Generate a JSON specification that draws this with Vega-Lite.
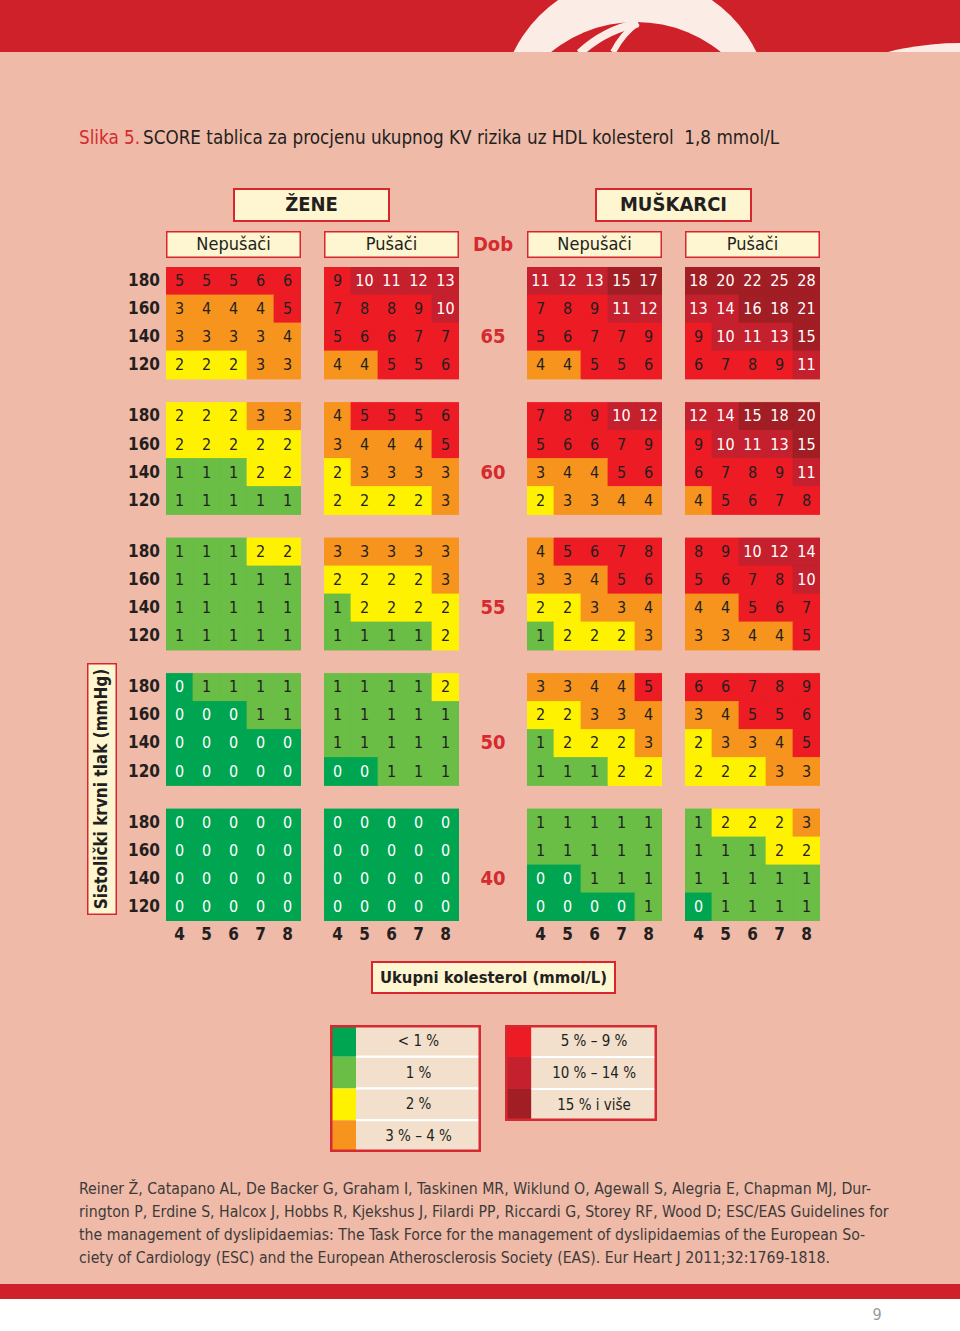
{
"$schema": "https://vega.github.io/schema/vega-lite/v6.json",
"background": "#efbaa7",
"padding": 0,
"spacing": 0,
"resolve": {"scale": {"color": "independent", "stroke": "independent"}},
"config": {"view": {"stroke": null}, "concat": {"spacing": 0}, "text": {"font": "Liberation Sans Narrow, DejaVu Sans Condensed, Roboto Condensed, Liberation Sans, sans-serif", "color": "#231f20"}},
"datasets": {"cells": [
{"sex":"Žene","smoker":"Nepušači","age":65,"sbp":180,"chol":4,"risk":5},{"sex":"Žene","smoker":"Nepušači","age":65,"sbp":180,"chol":5,"risk":5},{"sex":"Žene","smoker":"Nepušači","age":65,"sbp":180,"chol":6,"risk":5},{"sex":"Žene","smoker":"Nepušači","age":65,"sbp":180,"chol":7,"risk":6},{"sex":"Žene","smoker":"Nepušači","age":65,"sbp":180,"chol":8,"risk":6},
{"sex":"Žene","smoker":"Nepušači","age":65,"sbp":160,"chol":4,"risk":3},{"sex":"Žene","smoker":"Nepušači","age":65,"sbp":160,"chol":5,"risk":4},{"sex":"Žene","smoker":"Nepušači","age":65,"sbp":160,"chol":6,"risk":4},{"sex":"Žene","smoker":"Nepušači","age":65,"sbp":160,"chol":7,"risk":4},{"sex":"Žene","smoker":"Nepušači","age":65,"sbp":160,"chol":8,"risk":5},
{"sex":"Žene","smoker":"Nepušači","age":65,"sbp":140,"chol":4,"risk":3},{"sex":"Žene","smoker":"Nepušači","age":65,"sbp":140,"chol":5,"risk":3},{"sex":"Žene","smoker":"Nepušači","age":65,"sbp":140,"chol":6,"risk":3},{"sex":"Žene","smoker":"Nepušači","age":65,"sbp":140,"chol":7,"risk":3},{"sex":"Žene","smoker":"Nepušači","age":65,"sbp":140,"chol":8,"risk":4},
{"sex":"Žene","smoker":"Nepušači","age":65,"sbp":120,"chol":4,"risk":2},{"sex":"Žene","smoker":"Nepušači","age":65,"sbp":120,"chol":5,"risk":2},{"sex":"Žene","smoker":"Nepušači","age":65,"sbp":120,"chol":6,"risk":2},{"sex":"Žene","smoker":"Nepušači","age":65,"sbp":120,"chol":7,"risk":3},{"sex":"Žene","smoker":"Nepušači","age":65,"sbp":120,"chol":8,"risk":3},
{"sex":"Žene","smoker":"Nepušači","age":60,"sbp":180,"chol":4,"risk":2},{"sex":"Žene","smoker":"Nepušači","age":60,"sbp":180,"chol":5,"risk":2},{"sex":"Žene","smoker":"Nepušači","age":60,"sbp":180,"chol":6,"risk":2},{"sex":"Žene","smoker":"Nepušači","age":60,"sbp":180,"chol":7,"risk":3},{"sex":"Žene","smoker":"Nepušači","age":60,"sbp":180,"chol":8,"risk":3},
{"sex":"Žene","smoker":"Nepušači","age":60,"sbp":160,"chol":4,"risk":2},{"sex":"Žene","smoker":"Nepušači","age":60,"sbp":160,"chol":5,"risk":2},{"sex":"Žene","smoker":"Nepušači","age":60,"sbp":160,"chol":6,"risk":2},{"sex":"Žene","smoker":"Nepušači","age":60,"sbp":160,"chol":7,"risk":2},{"sex":"Žene","smoker":"Nepušači","age":60,"sbp":160,"chol":8,"risk":2},
{"sex":"Žene","smoker":"Nepušači","age":60,"sbp":140,"chol":4,"risk":1},{"sex":"Žene","smoker":"Nepušači","age":60,"sbp":140,"chol":5,"risk":1},{"sex":"Žene","smoker":"Nepušači","age":60,"sbp":140,"chol":6,"risk":1},{"sex":"Žene","smoker":"Nepušači","age":60,"sbp":140,"chol":7,"risk":2},{"sex":"Žene","smoker":"Nepušači","age":60,"sbp":140,"chol":8,"risk":2},
{"sex":"Žene","smoker":"Nepušači","age":60,"sbp":120,"chol":4,"risk":1},{"sex":"Žene","smoker":"Nepušači","age":60,"sbp":120,"chol":5,"risk":1},{"sex":"Žene","smoker":"Nepušači","age":60,"sbp":120,"chol":6,"risk":1},{"sex":"Žene","smoker":"Nepušači","age":60,"sbp":120,"chol":7,"risk":1},{"sex":"Žene","smoker":"Nepušači","age":60,"sbp":120,"chol":8,"risk":1},
{"sex":"Žene","smoker":"Nepušači","age":55,"sbp":180,"chol":4,"risk":1},{"sex":"Žene","smoker":"Nepušači","age":55,"sbp":180,"chol":5,"risk":1},{"sex":"Žene","smoker":"Nepušači","age":55,"sbp":180,"chol":6,"risk":1},{"sex":"Žene","smoker":"Nepušači","age":55,"sbp":180,"chol":7,"risk":2},{"sex":"Žene","smoker":"Nepušači","age":55,"sbp":180,"chol":8,"risk":2},
{"sex":"Žene","smoker":"Nepušači","age":55,"sbp":160,"chol":4,"risk":1},{"sex":"Žene","smoker":"Nepušači","age":55,"sbp":160,"chol":5,"risk":1},{"sex":"Žene","smoker":"Nepušači","age":55,"sbp":160,"chol":6,"risk":1},{"sex":"Žene","smoker":"Nepušači","age":55,"sbp":160,"chol":7,"risk":1},{"sex":"Žene","smoker":"Nepušači","age":55,"sbp":160,"chol":8,"risk":1},
{"sex":"Žene","smoker":"Nepušači","age":55,"sbp":140,"chol":4,"risk":1},{"sex":"Žene","smoker":"Nepušači","age":55,"sbp":140,"chol":5,"risk":1},{"sex":"Žene","smoker":"Nepušači","age":55,"sbp":140,"chol":6,"risk":1},{"sex":"Žene","smoker":"Nepušači","age":55,"sbp":140,"chol":7,"risk":1},{"sex":"Žene","smoker":"Nepušači","age":55,"sbp":140,"chol":8,"risk":1},
{"sex":"Žene","smoker":"Nepušači","age":55,"sbp":120,"chol":4,"risk":1},{"sex":"Žene","smoker":"Nepušači","age":55,"sbp":120,"chol":5,"risk":1},{"sex":"Žene","smoker":"Nepušači","age":55,"sbp":120,"chol":6,"risk":1},{"sex":"Žene","smoker":"Nepušači","age":55,"sbp":120,"chol":7,"risk":1},{"sex":"Žene","smoker":"Nepušači","age":55,"sbp":120,"chol":8,"risk":1},
{"sex":"Žene","smoker":"Nepušači","age":50,"sbp":180,"chol":4,"risk":0},{"sex":"Žene","smoker":"Nepušači","age":50,"sbp":180,"chol":5,"risk":1},{"sex":"Žene","smoker":"Nepušači","age":50,"sbp":180,"chol":6,"risk":1},{"sex":"Žene","smoker":"Nepušači","age":50,"sbp":180,"chol":7,"risk":1},{"sex":"Žene","smoker":"Nepušači","age":50,"sbp":180,"chol":8,"risk":1},
{"sex":"Žene","smoker":"Nepušači","age":50,"sbp":160,"chol":4,"risk":0},{"sex":"Žene","smoker":"Nepušači","age":50,"sbp":160,"chol":5,"risk":0},{"sex":"Žene","smoker":"Nepušači","age":50,"sbp":160,"chol":6,"risk":0},{"sex":"Žene","smoker":"Nepušači","age":50,"sbp":160,"chol":7,"risk":1},{"sex":"Žene","smoker":"Nepušači","age":50,"sbp":160,"chol":8,"risk":1},
{"sex":"Žene","smoker":"Nepušači","age":50,"sbp":140,"chol":4,"risk":0},{"sex":"Žene","smoker":"Nepušači","age":50,"sbp":140,"chol":5,"risk":0},{"sex":"Žene","smoker":"Nepušači","age":50,"sbp":140,"chol":6,"risk":0},{"sex":"Žene","smoker":"Nepušači","age":50,"sbp":140,"chol":7,"risk":0},{"sex":"Žene","smoker":"Nepušači","age":50,"sbp":140,"chol":8,"risk":0},
{"sex":"Žene","smoker":"Nepušači","age":50,"sbp":120,"chol":4,"risk":0},{"sex":"Žene","smoker":"Nepušači","age":50,"sbp":120,"chol":5,"risk":0},{"sex":"Žene","smoker":"Nepušači","age":50,"sbp":120,"chol":6,"risk":0},{"sex":"Žene","smoker":"Nepušači","age":50,"sbp":120,"chol":7,"risk":0},{"sex":"Žene","smoker":"Nepušači","age":50,"sbp":120,"chol":8,"risk":0},
{"sex":"Žene","smoker":"Nepušači","age":40,"sbp":180,"chol":4,"risk":0},{"sex":"Žene","smoker":"Nepušači","age":40,"sbp":180,"chol":5,"risk":0},{"sex":"Žene","smoker":"Nepušači","age":40,"sbp":180,"chol":6,"risk":0},{"sex":"Žene","smoker":"Nepušači","age":40,"sbp":180,"chol":7,"risk":0},{"sex":"Žene","smoker":"Nepušači","age":40,"sbp":180,"chol":8,"risk":0},
{"sex":"Žene","smoker":"Nepušači","age":40,"sbp":160,"chol":4,"risk":0},{"sex":"Žene","smoker":"Nepušači","age":40,"sbp":160,"chol":5,"risk":0},{"sex":"Žene","smoker":"Nepušači","age":40,"sbp":160,"chol":6,"risk":0},{"sex":"Žene","smoker":"Nepušači","age":40,"sbp":160,"chol":7,"risk":0},{"sex":"Žene","smoker":"Nepušači","age":40,"sbp":160,"chol":8,"risk":0},
{"sex":"Žene","smoker":"Nepušači","age":40,"sbp":140,"chol":4,"risk":0},{"sex":"Žene","smoker":"Nepušači","age":40,"sbp":140,"chol":5,"risk":0},{"sex":"Žene","smoker":"Nepušači","age":40,"sbp":140,"chol":6,"risk":0},{"sex":"Žene","smoker":"Nepušači","age":40,"sbp":140,"chol":7,"risk":0},{"sex":"Žene","smoker":"Nepušači","age":40,"sbp":140,"chol":8,"risk":0},
{"sex":"Žene","smoker":"Nepušači","age":40,"sbp":120,"chol":4,"risk":0},{"sex":"Žene","smoker":"Nepušači","age":40,"sbp":120,"chol":5,"risk":0},{"sex":"Žene","smoker":"Nepušači","age":40,"sbp":120,"chol":6,"risk":0},{"sex":"Žene","smoker":"Nepušači","age":40,"sbp":120,"chol":7,"risk":0},{"sex":"Žene","smoker":"Nepušači","age":40,"sbp":120,"chol":8,"risk":0},
{"sex":"Žene","smoker":"Pušači","age":65,"sbp":180,"chol":4,"risk":9},{"sex":"Žene","smoker":"Pušači","age":65,"sbp":180,"chol":5,"risk":10},{"sex":"Žene","smoker":"Pušači","age":65,"sbp":180,"chol":6,"risk":11},{"sex":"Žene","smoker":"Pušači","age":65,"sbp":180,"chol":7,"risk":12},{"sex":"Žene","smoker":"Pušači","age":65,"sbp":180,"chol":8,"risk":13},
{"sex":"Žene","smoker":"Pušači","age":65,"sbp":160,"chol":4,"risk":7},{"sex":"Žene","smoker":"Pušači","age":65,"sbp":160,"chol":5,"risk":8},{"sex":"Žene","smoker":"Pušači","age":65,"sbp":160,"chol":6,"risk":8},{"sex":"Žene","smoker":"Pušači","age":65,"sbp":160,"chol":7,"risk":9},{"sex":"Žene","smoker":"Pušači","age":65,"sbp":160,"chol":8,"risk":10},
{"sex":"Žene","smoker":"Pušači","age":65,"sbp":140,"chol":4,"risk":5},{"sex":"Žene","smoker":"Pušači","age":65,"sbp":140,"chol":5,"risk":6},{"sex":"Žene","smoker":"Pušači","age":65,"sbp":140,"chol":6,"risk":6},{"sex":"Žene","smoker":"Pušači","age":65,"sbp":140,"chol":7,"risk":7},{"sex":"Žene","smoker":"Pušači","age":65,"sbp":140,"chol":8,"risk":7},
{"sex":"Žene","smoker":"Pušači","age":65,"sbp":120,"chol":4,"risk":4},{"sex":"Žene","smoker":"Pušači","age":65,"sbp":120,"chol":5,"risk":4},{"sex":"Žene","smoker":"Pušači","age":65,"sbp":120,"chol":6,"risk":5},{"sex":"Žene","smoker":"Pušači","age":65,"sbp":120,"chol":7,"risk":5},{"sex":"Žene","smoker":"Pušači","age":65,"sbp":120,"chol":8,"risk":6},
{"sex":"Žene","smoker":"Pušači","age":60,"sbp":180,"chol":4,"risk":4},{"sex":"Žene","smoker":"Pušači","age":60,"sbp":180,"chol":5,"risk":5},{"sex":"Žene","smoker":"Pušači","age":60,"sbp":180,"chol":6,"risk":5},{"sex":"Žene","smoker":"Pušači","age":60,"sbp":180,"chol":7,"risk":5},{"sex":"Žene","smoker":"Pušači","age":60,"sbp":180,"chol":8,"risk":6},
{"sex":"Žene","smoker":"Pušači","age":60,"sbp":160,"chol":4,"risk":3},{"sex":"Žene","smoker":"Pušači","age":60,"sbp":160,"chol":5,"risk":4},{"sex":"Žene","smoker":"Pušači","age":60,"sbp":160,"chol":6,"risk":4},{"sex":"Žene","smoker":"Pušači","age":60,"sbp":160,"chol":7,"risk":4},{"sex":"Žene","smoker":"Pušači","age":60,"sbp":160,"chol":8,"risk":5},
{"sex":"Žene","smoker":"Pušači","age":60,"sbp":140,"chol":4,"risk":2},{"sex":"Žene","smoker":"Pušači","age":60,"sbp":140,"chol":5,"risk":3},{"sex":"Žene","smoker":"Pušači","age":60,"sbp":140,"chol":6,"risk":3},{"sex":"Žene","smoker":"Pušači","age":60,"sbp":140,"chol":7,"risk":3},{"sex":"Žene","smoker":"Pušači","age":60,"sbp":140,"chol":8,"risk":3},
{"sex":"Žene","smoker":"Pušači","age":60,"sbp":120,"chol":4,"risk":2},{"sex":"Žene","smoker":"Pušači","age":60,"sbp":120,"chol":5,"risk":2},{"sex":"Žene","smoker":"Pušači","age":60,"sbp":120,"chol":6,"risk":2},{"sex":"Žene","smoker":"Pušači","age":60,"sbp":120,"chol":7,"risk":2},{"sex":"Žene","smoker":"Pušači","age":60,"sbp":120,"chol":8,"risk":3},
{"sex":"Žene","smoker":"Pušači","age":55,"sbp":180,"chol":4,"risk":3},{"sex":"Žene","smoker":"Pušači","age":55,"sbp":180,"chol":5,"risk":3},{"sex":"Žene","smoker":"Pušači","age":55,"sbp":180,"chol":6,"risk":3},{"sex":"Žene","smoker":"Pušači","age":55,"sbp":180,"chol":7,"risk":3},{"sex":"Žene","smoker":"Pušači","age":55,"sbp":180,"chol":8,"risk":3},
{"sex":"Žene","smoker":"Pušači","age":55,"sbp":160,"chol":4,"risk":2},{"sex":"Žene","smoker":"Pušači","age":55,"sbp":160,"chol":5,"risk":2},{"sex":"Žene","smoker":"Pušači","age":55,"sbp":160,"chol":6,"risk":2},{"sex":"Žene","smoker":"Pušači","age":55,"sbp":160,"chol":7,"risk":2},{"sex":"Žene","smoker":"Pušači","age":55,"sbp":160,"chol":8,"risk":3},
{"sex":"Žene","smoker":"Pušači","age":55,"sbp":140,"chol":4,"risk":1},{"sex":"Žene","smoker":"Pušači","age":55,"sbp":140,"chol":5,"risk":2},{"sex":"Žene","smoker":"Pušači","age":55,"sbp":140,"chol":6,"risk":2},{"sex":"Žene","smoker":"Pušači","age":55,"sbp":140,"chol":7,"risk":2},{"sex":"Žene","smoker":"Pušači","age":55,"sbp":140,"chol":8,"risk":2},
{"sex":"Žene","smoker":"Pušači","age":55,"sbp":120,"chol":4,"risk":1},{"sex":"Žene","smoker":"Pušači","age":55,"sbp":120,"chol":5,"risk":1},{"sex":"Žene","smoker":"Pušači","age":55,"sbp":120,"chol":6,"risk":1},{"sex":"Žene","smoker":"Pušači","age":55,"sbp":120,"chol":7,"risk":1},{"sex":"Žene","smoker":"Pušači","age":55,"sbp":120,"chol":8,"risk":2},
{"sex":"Žene","smoker":"Pušači","age":50,"sbp":180,"chol":4,"risk":1},{"sex":"Žene","smoker":"Pušači","age":50,"sbp":180,"chol":5,"risk":1},{"sex":"Žene","smoker":"Pušači","age":50,"sbp":180,"chol":6,"risk":1},{"sex":"Žene","smoker":"Pušači","age":50,"sbp":180,"chol":7,"risk":1},{"sex":"Žene","smoker":"Pušači","age":50,"sbp":180,"chol":8,"risk":2},
{"sex":"Žene","smoker":"Pušači","age":50,"sbp":160,"chol":4,"risk":1},{"sex":"Žene","smoker":"Pušači","age":50,"sbp":160,"chol":5,"risk":1},{"sex":"Žene","smoker":"Pušači","age":50,"sbp":160,"chol":6,"risk":1},{"sex":"Žene","smoker":"Pušači","age":50,"sbp":160,"chol":7,"risk":1},{"sex":"Žene","smoker":"Pušači","age":50,"sbp":160,"chol":8,"risk":1},
{"sex":"Žene","smoker":"Pušači","age":50,"sbp":140,"chol":4,"risk":1},{"sex":"Žene","smoker":"Pušači","age":50,"sbp":140,"chol":5,"risk":1},{"sex":"Žene","smoker":"Pušači","age":50,"sbp":140,"chol":6,"risk":1},{"sex":"Žene","smoker":"Pušači","age":50,"sbp":140,"chol":7,"risk":1},{"sex":"Žene","smoker":"Pušači","age":50,"sbp":140,"chol":8,"risk":1},
{"sex":"Žene","smoker":"Pušači","age":50,"sbp":120,"chol":4,"risk":0},{"sex":"Žene","smoker":"Pušači","age":50,"sbp":120,"chol":5,"risk":0},{"sex":"Žene","smoker":"Pušači","age":50,"sbp":120,"chol":6,"risk":1},{"sex":"Žene","smoker":"Pušači","age":50,"sbp":120,"chol":7,"risk":1},{"sex":"Žene","smoker":"Pušači","age":50,"sbp":120,"chol":8,"risk":1},
{"sex":"Žene","smoker":"Pušači","age":40,"sbp":180,"chol":4,"risk":0},{"sex":"Žene","smoker":"Pušači","age":40,"sbp":180,"chol":5,"risk":0},{"sex":"Žene","smoker":"Pušači","age":40,"sbp":180,"chol":6,"risk":0},{"sex":"Žene","smoker":"Pušači","age":40,"sbp":180,"chol":7,"risk":0},{"sex":"Žene","smoker":"Pušači","age":40,"sbp":180,"chol":8,"risk":0},
{"sex":"Žene","smoker":"Pušači","age":40,"sbp":160,"chol":4,"risk":0},{"sex":"Žene","smoker":"Pušači","age":40,"sbp":160,"chol":5,"risk":0},{"sex":"Žene","smoker":"Pušači","age":40,"sbp":160,"chol":6,"risk":0},{"sex":"Žene","smoker":"Pušači","age":40,"sbp":160,"chol":7,"risk":0},{"sex":"Žene","smoker":"Pušači","age":40,"sbp":160,"chol":8,"risk":0},
{"sex":"Žene","smoker":"Pušači","age":40,"sbp":140,"chol":4,"risk":0},{"sex":"Žene","smoker":"Pušači","age":40,"sbp":140,"chol":5,"risk":0},{"sex":"Žene","smoker":"Pušači","age":40,"sbp":140,"chol":6,"risk":0},{"sex":"Žene","smoker":"Pušači","age":40,"sbp":140,"chol":7,"risk":0},{"sex":"Žene","smoker":"Pušači","age":40,"sbp":140,"chol":8,"risk":0},
{"sex":"Žene","smoker":"Pušači","age":40,"sbp":120,"chol":4,"risk":0},{"sex":"Žene","smoker":"Pušači","age":40,"sbp":120,"chol":5,"risk":0},{"sex":"Žene","smoker":"Pušači","age":40,"sbp":120,"chol":6,"risk":0},{"sex":"Žene","smoker":"Pušači","age":40,"sbp":120,"chol":7,"risk":0},{"sex":"Žene","smoker":"Pušači","age":40,"sbp":120,"chol":8,"risk":0},
{"sex":"Muškarci","smoker":"Nepušači","age":65,"sbp":180,"chol":4,"risk":11},{"sex":"Muškarci","smoker":"Nepušači","age":65,"sbp":180,"chol":5,"risk":12},{"sex":"Muškarci","smoker":"Nepušači","age":65,"sbp":180,"chol":6,"risk":13},{"sex":"Muškarci","smoker":"Nepušači","age":65,"sbp":180,"chol":7,"risk":15},{"sex":"Muškarci","smoker":"Nepušači","age":65,"sbp":180,"chol":8,"risk":17},
{"sex":"Muškarci","smoker":"Nepušači","age":65,"sbp":160,"chol":4,"risk":7},{"sex":"Muškarci","smoker":"Nepušači","age":65,"sbp":160,"chol":5,"risk":8},{"sex":"Muškarci","smoker":"Nepušači","age":65,"sbp":160,"chol":6,"risk":9},{"sex":"Muškarci","smoker":"Nepušači","age":65,"sbp":160,"chol":7,"risk":11},{"sex":"Muškarci","smoker":"Nepušači","age":65,"sbp":160,"chol":8,"risk":12},
{"sex":"Muškarci","smoker":"Nepušači","age":65,"sbp":140,"chol":4,"risk":5},{"sex":"Muškarci","smoker":"Nepušači","age":65,"sbp":140,"chol":5,"risk":6},{"sex":"Muškarci","smoker":"Nepušači","age":65,"sbp":140,"chol":6,"risk":7},{"sex":"Muškarci","smoker":"Nepušači","age":65,"sbp":140,"chol":7,"risk":7},{"sex":"Muškarci","smoker":"Nepušači","age":65,"sbp":140,"chol":8,"risk":9},
{"sex":"Muškarci","smoker":"Nepušači","age":65,"sbp":120,"chol":4,"risk":4},{"sex":"Muškarci","smoker":"Nepušači","age":65,"sbp":120,"chol":5,"risk":4},{"sex":"Muškarci","smoker":"Nepušači","age":65,"sbp":120,"chol":6,"risk":5},{"sex":"Muškarci","smoker":"Nepušači","age":65,"sbp":120,"chol":7,"risk":5},{"sex":"Muškarci","smoker":"Nepušači","age":65,"sbp":120,"chol":8,"risk":6},
{"sex":"Muškarci","smoker":"Nepušači","age":60,"sbp":180,"chol":4,"risk":7},{"sex":"Muškarci","smoker":"Nepušači","age":60,"sbp":180,"chol":5,"risk":8},{"sex":"Muškarci","smoker":"Nepušači","age":60,"sbp":180,"chol":6,"risk":9},{"sex":"Muškarci","smoker":"Nepušači","age":60,"sbp":180,"chol":7,"risk":10},{"sex":"Muškarci","smoker":"Nepušači","age":60,"sbp":180,"chol":8,"risk":12},
{"sex":"Muškarci","smoker":"Nepušači","age":60,"sbp":160,"chol":4,"risk":5},{"sex":"Muškarci","smoker":"Nepušači","age":60,"sbp":160,"chol":5,"risk":6},{"sex":"Muškarci","smoker":"Nepušači","age":60,"sbp":160,"chol":6,"risk":6},{"sex":"Muškarci","smoker":"Nepušači","age":60,"sbp":160,"chol":7,"risk":7},{"sex":"Muškarci","smoker":"Nepušači","age":60,"sbp":160,"chol":8,"risk":9},
{"sex":"Muškarci","smoker":"Nepušači","age":60,"sbp":140,"chol":4,"risk":3},{"sex":"Muškarci","smoker":"Nepušači","age":60,"sbp":140,"chol":5,"risk":4},{"sex":"Muškarci","smoker":"Nepušači","age":60,"sbp":140,"chol":6,"risk":4},{"sex":"Muškarci","smoker":"Nepušači","age":60,"sbp":140,"chol":7,"risk":5},{"sex":"Muškarci","smoker":"Nepušači","age":60,"sbp":140,"chol":8,"risk":6},
{"sex":"Muškarci","smoker":"Nepušači","age":60,"sbp":120,"chol":4,"risk":2},{"sex":"Muškarci","smoker":"Nepušači","age":60,"sbp":120,"chol":5,"risk":3},{"sex":"Muškarci","smoker":"Nepušači","age":60,"sbp":120,"chol":6,"risk":3},{"sex":"Muškarci","smoker":"Nepušači","age":60,"sbp":120,"chol":7,"risk":4},{"sex":"Muškarci","smoker":"Nepušači","age":60,"sbp":120,"chol":8,"risk":4},
{"sex":"Muškarci","smoker":"Nepušači","age":55,"sbp":180,"chol":4,"risk":4},{"sex":"Muškarci","smoker":"Nepušači","age":55,"sbp":180,"chol":5,"risk":5},{"sex":"Muškarci","smoker":"Nepušači","age":55,"sbp":180,"chol":6,"risk":6},{"sex":"Muškarci","smoker":"Nepušači","age":55,"sbp":180,"chol":7,"risk":7},{"sex":"Muškarci","smoker":"Nepušači","age":55,"sbp":180,"chol":8,"risk":8},
{"sex":"Muškarci","smoker":"Nepušači","age":55,"sbp":160,"chol":4,"risk":3},{"sex":"Muškarci","smoker":"Nepušači","age":55,"sbp":160,"chol":5,"risk":3},{"sex":"Muškarci","smoker":"Nepušači","age":55,"sbp":160,"chol":6,"risk":4},{"sex":"Muškarci","smoker":"Nepušači","age":55,"sbp":160,"chol":7,"risk":5},{"sex":"Muškarci","smoker":"Nepušači","age":55,"sbp":160,"chol":8,"risk":6},
{"sex":"Muškarci","smoker":"Nepušači","age":55,"sbp":140,"chol":4,"risk":2},{"sex":"Muškarci","smoker":"Nepušači","age":55,"sbp":140,"chol":5,"risk":2},{"sex":"Muškarci","smoker":"Nepušači","age":55,"sbp":140,"chol":6,"risk":3},{"sex":"Muškarci","smoker":"Nepušači","age":55,"sbp":140,"chol":7,"risk":3},{"sex":"Muškarci","smoker":"Nepušači","age":55,"sbp":140,"chol":8,"risk":4},
{"sex":"Muškarci","smoker":"Nepušači","age":55,"sbp":120,"chol":4,"risk":1},{"sex":"Muškarci","smoker":"Nepušači","age":55,"sbp":120,"chol":5,"risk":2},{"sex":"Muškarci","smoker":"Nepušači","age":55,"sbp":120,"chol":6,"risk":2},{"sex":"Muškarci","smoker":"Nepušači","age":55,"sbp":120,"chol":7,"risk":2},{"sex":"Muškarci","smoker":"Nepušači","age":55,"sbp":120,"chol":8,"risk":3},
{"sex":"Muškarci","smoker":"Nepušači","age":50,"sbp":180,"chol":4,"risk":3},{"sex":"Muškarci","smoker":"Nepušači","age":50,"sbp":180,"chol":5,"risk":3},{"sex":"Muškarci","smoker":"Nepušači","age":50,"sbp":180,"chol":6,"risk":4},{"sex":"Muškarci","smoker":"Nepušači","age":50,"sbp":180,"chol":7,"risk":4},{"sex":"Muškarci","smoker":"Nepušači","age":50,"sbp":180,"chol":8,"risk":5},
{"sex":"Muškarci","smoker":"Nepušači","age":50,"sbp":160,"chol":4,"risk":2},{"sex":"Muškarci","smoker":"Nepušači","age":50,"sbp":160,"chol":5,"risk":2},{"sex":"Muškarci","smoker":"Nepušači","age":50,"sbp":160,"chol":6,"risk":3},{"sex":"Muškarci","smoker":"Nepušači","age":50,"sbp":160,"chol":7,"risk":3},{"sex":"Muškarci","smoker":"Nepušači","age":50,"sbp":160,"chol":8,"risk":4},
{"sex":"Muškarci","smoker":"Nepušači","age":50,"sbp":140,"chol":4,"risk":1},{"sex":"Muškarci","smoker":"Nepušači","age":50,"sbp":140,"chol":5,"risk":2},{"sex":"Muškarci","smoker":"Nepušači","age":50,"sbp":140,"chol":6,"risk":2},{"sex":"Muškarci","smoker":"Nepušači","age":50,"sbp":140,"chol":7,"risk":2},{"sex":"Muškarci","smoker":"Nepušači","age":50,"sbp":140,"chol":8,"risk":3},
{"sex":"Muškarci","smoker":"Nepušači","age":50,"sbp":120,"chol":4,"risk":1},{"sex":"Muškarci","smoker":"Nepušači","age":50,"sbp":120,"chol":5,"risk":1},{"sex":"Muškarci","smoker":"Nepušači","age":50,"sbp":120,"chol":6,"risk":1},{"sex":"Muškarci","smoker":"Nepušači","age":50,"sbp":120,"chol":7,"risk":2},{"sex":"Muškarci","smoker":"Nepušači","age":50,"sbp":120,"chol":8,"risk":2},
{"sex":"Muškarci","smoker":"Nepušači","age":40,"sbp":180,"chol":4,"risk":1},{"sex":"Muškarci","smoker":"Nepušači","age":40,"sbp":180,"chol":5,"risk":1},{"sex":"Muškarci","smoker":"Nepušači","age":40,"sbp":180,"chol":6,"risk":1},{"sex":"Muškarci","smoker":"Nepušači","age":40,"sbp":180,"chol":7,"risk":1},{"sex":"Muškarci","smoker":"Nepušači","age":40,"sbp":180,"chol":8,"risk":1},
{"sex":"Muškarci","smoker":"Nepušači","age":40,"sbp":160,"chol":4,"risk":1},{"sex":"Muškarci","smoker":"Nepušači","age":40,"sbp":160,"chol":5,"risk":1},{"sex":"Muškarci","smoker":"Nepušači","age":40,"sbp":160,"chol":6,"risk":1},{"sex":"Muškarci","smoker":"Nepušači","age":40,"sbp":160,"chol":7,"risk":1},{"sex":"Muškarci","smoker":"Nepušači","age":40,"sbp":160,"chol":8,"risk":1},
{"sex":"Muškarci","smoker":"Nepušači","age":40,"sbp":140,"chol":4,"risk":0},{"sex":"Muškarci","smoker":"Nepušači","age":40,"sbp":140,"chol":5,"risk":0},{"sex":"Muškarci","smoker":"Nepušači","age":40,"sbp":140,"chol":6,"risk":1},{"sex":"Muškarci","smoker":"Nepušači","age":40,"sbp":140,"chol":7,"risk":1},{"sex":"Muškarci","smoker":"Nepušači","age":40,"sbp":140,"chol":8,"risk":1},
{"sex":"Muškarci","smoker":"Nepušači","age":40,"sbp":120,"chol":4,"risk":0},{"sex":"Muškarci","smoker":"Nepušači","age":40,"sbp":120,"chol":5,"risk":0},{"sex":"Muškarci","smoker":"Nepušači","age":40,"sbp":120,"chol":6,"risk":0},{"sex":"Muškarci","smoker":"Nepušači","age":40,"sbp":120,"chol":7,"risk":0},{"sex":"Muškarci","smoker":"Nepušači","age":40,"sbp":120,"chol":8,"risk":1},
{"sex":"Muškarci","smoker":"Pušači","age":65,"sbp":180,"chol":4,"risk":18},{"sex":"Muškarci","smoker":"Pušači","age":65,"sbp":180,"chol":5,"risk":20},{"sex":"Muškarci","smoker":"Pušači","age":65,"sbp":180,"chol":6,"risk":22},{"sex":"Muškarci","smoker":"Pušači","age":65,"sbp":180,"chol":7,"risk":25},{"sex":"Muškarci","smoker":"Pušači","age":65,"sbp":180,"chol":8,"risk":28},
{"sex":"Muškarci","smoker":"Pušači","age":65,"sbp":160,"chol":4,"risk":13},{"sex":"Muškarci","smoker":"Pušači","age":65,"sbp":160,"chol":5,"risk":14},{"sex":"Muškarci","smoker":"Pušači","age":65,"sbp":160,"chol":6,"risk":16},{"sex":"Muškarci","smoker":"Pušači","age":65,"sbp":160,"chol":7,"risk":18},{"sex":"Muškarci","smoker":"Pušači","age":65,"sbp":160,"chol":8,"risk":21},
{"sex":"Muškarci","smoker":"Pušači","age":65,"sbp":140,"chol":4,"risk":9},{"sex":"Muškarci","smoker":"Pušači","age":65,"sbp":140,"chol":5,"risk":10},{"sex":"Muškarci","smoker":"Pušači","age":65,"sbp":140,"chol":6,"risk":11},{"sex":"Muškarci","smoker":"Pušači","age":65,"sbp":140,"chol":7,"risk":13},{"sex":"Muškarci","smoker":"Pušači","age":65,"sbp":140,"chol":8,"risk":15},
{"sex":"Muškarci","smoker":"Pušači","age":65,"sbp":120,"chol":4,"risk":6},{"sex":"Muškarci","smoker":"Pušači","age":65,"sbp":120,"chol":5,"risk":7},{"sex":"Muškarci","smoker":"Pušači","age":65,"sbp":120,"chol":6,"risk":8},{"sex":"Muškarci","smoker":"Pušači","age":65,"sbp":120,"chol":7,"risk":9},{"sex":"Muškarci","smoker":"Pušači","age":65,"sbp":120,"chol":8,"risk":11},
{"sex":"Muškarci","smoker":"Pušači","age":60,"sbp":180,"chol":4,"risk":12},{"sex":"Muškarci","smoker":"Pušači","age":60,"sbp":180,"chol":5,"risk":14},{"sex":"Muškarci","smoker":"Pušači","age":60,"sbp":180,"chol":6,"risk":15},{"sex":"Muškarci","smoker":"Pušači","age":60,"sbp":180,"chol":7,"risk":18},{"sex":"Muškarci","smoker":"Pušači","age":60,"sbp":180,"chol":8,"risk":20},
{"sex":"Muškarci","smoker":"Pušači","age":60,"sbp":160,"chol":4,"risk":9},{"sex":"Muškarci","smoker":"Pušači","age":60,"sbp":160,"chol":5,"risk":10},{"sex":"Muškarci","smoker":"Pušači","age":60,"sbp":160,"chol":6,"risk":11},{"sex":"Muškarci","smoker":"Pušači","age":60,"sbp":160,"chol":7,"risk":13},{"sex":"Muškarci","smoker":"Pušači","age":60,"sbp":160,"chol":8,"risk":15},
{"sex":"Muškarci","smoker":"Pušači","age":60,"sbp":140,"chol":4,"risk":6},{"sex":"Muškarci","smoker":"Pušači","age":60,"sbp":140,"chol":5,"risk":7},{"sex":"Muškarci","smoker":"Pušači","age":60,"sbp":140,"chol":6,"risk":8},{"sex":"Muškarci","smoker":"Pušači","age":60,"sbp":140,"chol":7,"risk":9},{"sex":"Muškarci","smoker":"Pušači","age":60,"sbp":140,"chol":8,"risk":11},
{"sex":"Muškarci","smoker":"Pušači","age":60,"sbp":120,"chol":4,"risk":4},{"sex":"Muškarci","smoker":"Pušači","age":60,"sbp":120,"chol":5,"risk":5},{"sex":"Muškarci","smoker":"Pušači","age":60,"sbp":120,"chol":6,"risk":6},{"sex":"Muškarci","smoker":"Pušači","age":60,"sbp":120,"chol":7,"risk":7},{"sex":"Muškarci","smoker":"Pušači","age":60,"sbp":120,"chol":8,"risk":8},
{"sex":"Muškarci","smoker":"Pušači","age":55,"sbp":180,"chol":4,"risk":8},{"sex":"Muškarci","smoker":"Pušači","age":55,"sbp":180,"chol":5,"risk":9},{"sex":"Muškarci","smoker":"Pušači","age":55,"sbp":180,"chol":6,"risk":10},{"sex":"Muškarci","smoker":"Pušači","age":55,"sbp":180,"chol":7,"risk":12},{"sex":"Muškarci","smoker":"Pušači","age":55,"sbp":180,"chol":8,"risk":14},
{"sex":"Muškarci","smoker":"Pušači","age":55,"sbp":160,"chol":4,"risk":5},{"sex":"Muškarci","smoker":"Pušači","age":55,"sbp":160,"chol":5,"risk":6},{"sex":"Muškarci","smoker":"Pušači","age":55,"sbp":160,"chol":6,"risk":7},{"sex":"Muškarci","smoker":"Pušači","age":55,"sbp":160,"chol":7,"risk":8},{"sex":"Muškarci","smoker":"Pušači","age":55,"sbp":160,"chol":8,"risk":10},
{"sex":"Muškarci","smoker":"Pušači","age":55,"sbp":140,"chol":4,"risk":4},{"sex":"Muškarci","smoker":"Pušači","age":55,"sbp":140,"chol":5,"risk":4},{"sex":"Muškarci","smoker":"Pušači","age":55,"sbp":140,"chol":6,"risk":5},{"sex":"Muškarci","smoker":"Pušači","age":55,"sbp":140,"chol":7,"risk":6},{"sex":"Muškarci","smoker":"Pušači","age":55,"sbp":140,"chol":8,"risk":7},
{"sex":"Muškarci","smoker":"Pušači","age":55,"sbp":120,"chol":4,"risk":3},{"sex":"Muškarci","smoker":"Pušači","age":55,"sbp":120,"chol":5,"risk":3},{"sex":"Muškarci","smoker":"Pušači","age":55,"sbp":120,"chol":6,"risk":4},{"sex":"Muškarci","smoker":"Pušači","age":55,"sbp":120,"chol":7,"risk":4},{"sex":"Muškarci","smoker":"Pušači","age":55,"sbp":120,"chol":8,"risk":5},
{"sex":"Muškarci","smoker":"Pušači","age":50,"sbp":180,"chol":4,"risk":6},{"sex":"Muškarci","smoker":"Pušači","age":50,"sbp":180,"chol":5,"risk":6},{"sex":"Muškarci","smoker":"Pušači","age":50,"sbp":180,"chol":6,"risk":7},{"sex":"Muškarci","smoker":"Pušači","age":50,"sbp":180,"chol":7,"risk":8},{"sex":"Muškarci","smoker":"Pušači","age":50,"sbp":180,"chol":8,"risk":9},
{"sex":"Muškarci","smoker":"Pušači","age":50,"sbp":160,"chol":4,"risk":3},{"sex":"Muškarci","smoker":"Pušači","age":50,"sbp":160,"chol":5,"risk":4},{"sex":"Muškarci","smoker":"Pušači","age":50,"sbp":160,"chol":6,"risk":5},{"sex":"Muškarci","smoker":"Pušači","age":50,"sbp":160,"chol":7,"risk":5},{"sex":"Muškarci","smoker":"Pušači","age":50,"sbp":160,"chol":8,"risk":6},
{"sex":"Muškarci","smoker":"Pušači","age":50,"sbp":140,"chol":4,"risk":2},{"sex":"Muškarci","smoker":"Pušači","age":50,"sbp":140,"chol":5,"risk":3},{"sex":"Muškarci","smoker":"Pušači","age":50,"sbp":140,"chol":6,"risk":3},{"sex":"Muškarci","smoker":"Pušači","age":50,"sbp":140,"chol":7,"risk":4},{"sex":"Muškarci","smoker":"Pušači","age":50,"sbp":140,"chol":8,"risk":5},
{"sex":"Muškarci","smoker":"Pušači","age":50,"sbp":120,"chol":4,"risk":2},{"sex":"Muškarci","smoker":"Pušači","age":50,"sbp":120,"chol":5,"risk":2},{"sex":"Muškarci","smoker":"Pušači","age":50,"sbp":120,"chol":6,"risk":2},{"sex":"Muškarci","smoker":"Pušači","age":50,"sbp":120,"chol":7,"risk":3},{"sex":"Muškarci","smoker":"Pušači","age":50,"sbp":120,"chol":8,"risk":3},
{"sex":"Muškarci","smoker":"Pušači","age":40,"sbp":180,"chol":4,"risk":1},{"sex":"Muškarci","smoker":"Pušači","age":40,"sbp":180,"chol":5,"risk":2},{"sex":"Muškarci","smoker":"Pušači","age":40,"sbp":180,"chol":6,"risk":2},{"sex":"Muškarci","smoker":"Pušači","age":40,"sbp":180,"chol":7,"risk":2},{"sex":"Muškarci","smoker":"Pušači","age":40,"sbp":180,"chol":8,"risk":3},
{"sex":"Muškarci","smoker":"Pušači","age":40,"sbp":160,"chol":4,"risk":1},{"sex":"Muškarci","smoker":"Pušači","age":40,"sbp":160,"chol":5,"risk":1},{"sex":"Muškarci","smoker":"Pušači","age":40,"sbp":160,"chol":6,"risk":1},{"sex":"Muškarci","smoker":"Pušači","age":40,"sbp":160,"chol":7,"risk":2},{"sex":"Muškarci","smoker":"Pušači","age":40,"sbp":160,"chol":8,"risk":2},
{"sex":"Muškarci","smoker":"Pušači","age":40,"sbp":140,"chol":4,"risk":1},{"sex":"Muškarci","smoker":"Pušači","age":40,"sbp":140,"chol":5,"risk":1},{"sex":"Muškarci","smoker":"Pušači","age":40,"sbp":140,"chol":6,"risk":1},{"sex":"Muškarci","smoker":"Pušači","age":40,"sbp":140,"chol":7,"risk":1},{"sex":"Muškarci","smoker":"Pušači","age":40,"sbp":140,"chol":8,"risk":1},
{"sex":"Muškarci","smoker":"Pušači","age":40,"sbp":120,"chol":4,"risk":0},{"sex":"Muškarci","smoker":"Pušači","age":40,"sbp":120,"chol":5,"risk":1},{"sex":"Muškarci","smoker":"Pušači","age":40,"sbp":120,"chol":6,"risk":1},{"sex":"Muškarci","smoker":"Pušači","age":40,"sbp":120,"chol":7,"risk":1},{"sex":"Muškarci","smoker":"Pušači","age":40,"sbp":120,"chol":8,"risk":1}
]},
"vconcat": [
{"width":960,"height":52,"data":{"values":[{}]},"layer":[
 {"mark":{"type":"rect","fill":"#cf2129"},"encoding":{}},
 {"mark":{"type":"arc","radius":135,"radius2":0,"theta":0,"theta2":6.2832,"fill":"#fbede6","xOffset":155,"yOffset":85,"clip":true},"encoding":{}},
 {"mark":{"type":"arc","radius":135,"radius2":0,"theta":0,"theta2":6.2832,"fill":"#cf2129","xOffset":156,"yOffset":131,"clip":true},"encoding":{}},
 {"mark":{"type":"arc","radius":123,"radius2":115,"theta":5.53,"theta2":6.09,"fill":"#fbede6","xOffset":181,"yOffset":114,"clip":true},"encoding":{}},
 {"mark":{"type":"arc","radius":82,"radius2":76,"theta":5.17,"theta2":5.66,"fill":"#fbede6","xOffset":204,"yOffset":61,"clip":true},"encoding":{}},
 {"mark":{"type":"arc","radius":292,"radius2":0,"theta":0,"theta2":6.2832,"fill":"#fbede6","xOffset":480,"yOffset":309,"clip":true},"encoding":{}}
]},
{"width":960,"height":66,"data":{"values":[]},"mark":"rect","encoding":{}},
{"hconcat":[
 {"width":78,"height":40,"data":{"values":[]},"mark":"rect","encoding":{}},
 {"width":2,"height":40,"data":{"values":[{"t":"Slika 5."}]},"mark":{"type":"text","align":"left","fontSize":18.7,"color":"#d42a30"},"encoding":{"text":{"field":"t","type":"nominal"}}},
 {"width":1,"height":40,"data":{"values":[]},"mark":"rect","encoding":{}},
 {"width":2,"height":40,"data":{"values":[{"t":"SCORE tablica za procjenu ukupnog KV rizika uz HDL kolesterol \u00a01,8 mmol/L"}]},"mark":{"type":"text","align":"left","fontSize":18.7,"color":"#231f20"},"encoding":{"text":{"field":"t","type":"nominal"}}}
],"spacing":0},
{"width":960,"height":30,"data":{"values":[]},"mark":"rect","encoding":{}},
{"hconcat":[
 {"width":233,"height":34,"data":{"values":[]},"mark":"rect","encoding":{}},
 {"width":157,"height":34,"data":{"values":[{"label":"ŽENE"}]},"layer":[
  {"mark":{"type":"rect","fill":"#fdf6d1","stroke":"#d9262e","strokeWidth":4,"clip":true},"encoding":{}},
  {"mark":{"type":"text","fontSize":20,"fontWeight":"bold"},"encoding":{"text":{"field":"label","type":"nominal"}}}]},
 {"width":205,"height":34,"data":{"values":[]},"mark":"rect","encoding":{}},
 {"width":157,"height":34,"data":{"values":[{"label":"MUŠKARCI"}]},"layer":[
  {"mark":{"type":"rect","fill":"#fdf6d1","stroke":"#d9262e","strokeWidth":4,"clip":true},"encoding":{}},
  {"mark":{"type":"text","fontSize":20,"fontWeight":"bold"},"encoding":{"text":{"field":"label","type":"nominal"}}}]}
],"spacing":0},
{"width":960,"height":9,"data":{"values":[]},"mark":"rect","encoding":{}},
{"hconcat":[
 {"width":166,"height":27,"data":{"values":[]},"mark":"rect","encoding":{}},
 {"width":135,"height":27,"data":{"values":[{"label":"Nepušači"}]},"layer":[
  {"mark":{"type":"rect","fill":"#fdf6d1","stroke":"#d9262e","strokeWidth":3,"clip":true},"encoding":{}},
  {"mark":{"type":"text","fontSize":18},"encoding":{"text":{"field":"label","type":"nominal"}}}]},
 {"width":23,"height":27,"data":{"values":[]},"mark":"rect","encoding":{}},
 {"width":135,"height":27,"data":{"values":[{"label":"Pušači"}]},"layer":[
  {"mark":{"type":"rect","fill":"#fdf6d1","stroke":"#d9262e","strokeWidth":3,"clip":true},"encoding":{}},
  {"mark":{"type":"text","fontSize":18},"encoding":{"text":{"field":"label","type":"nominal"}}}]},
 {"width":68,"height":27,"data":{"values":[{"label":"Dob"}]},"mark":{"type":"text","fontSize":20,"fontWeight":"bold","color":"#d42a30"},"encoding":{"text":{"field":"label","type":"nominal"}}},
 {"width":135,"height":27,"data":{"values":[{"label":"Nepušači"}]},"layer":[
  {"mark":{"type":"rect","fill":"#fdf6d1","stroke":"#d9262e","strokeWidth":3,"clip":true},"encoding":{}},
  {"mark":{"type":"text","fontSize":18},"encoding":{"text":{"field":"label","type":"nominal"}}}]},
 {"width":23,"height":27,"data":{"values":[]},"mark":"rect","encoding":{}},
 {"width":135,"height":27,"data":{"values":[{"label":"Pušači"}]},"layer":[
  {"mark":{"type":"rect","fill":"#fdf6d1","stroke":"#d9262e","strokeWidth":3,"clip":true},"encoding":{}},
  {"mark":{"type":"text","fontSize":18},"encoding":{"text":{"field":"label","type":"nominal"}}}]}
],"spacing":0},
{"width":960,"height":9,"data":{"values":[]},"mark":"rect","encoding":{}},
{"hconcat":[
 {"width":87,"height":654,"data":{"values":[]},"mark":"rect","encoding":{}},
 {"vconcat":[
  {"width":30,"height":396,"data":{"values":[]},"mark":"rect","encoding":{}},
  {"width":30,"height":252,"data":{"values":[{"label":"Sistolički krvni tlak (mmHg)"}]},"layer":[
   {"mark":{"type":"rect","fill":"#fdf6d1","stroke":"#d9262e","strokeWidth":3,"clip":true},"encoding":{}},
   {"mark":{"type":"text","fontSize":17,"fontWeight":"bold","angle":270},"encoding":{"text":{"field":"label","type":"nominal"}}}]}
 ],"spacing":0},
 {"width":5,"height":654,"data":{"values":[]},"mark":"rect","encoding":{}},
 {"width":44,"height":654,"data":{"name":"cells"},
  "transform":[{"filter":"datum.sex === 'Žene' && datum.smoker === 'Nepušači' && datum.chol === 4"}],
  "mark":{"type":"text","fontSize":17,"fontWeight":"bold"},
  "encoding":{
   "y":{"field":"age","type":"ordinal","scale":{"domain":[65,60,55,50,40],"paddingInner":0.1734,"paddingOuter":0},"axis":null},
   "yOffset":{"field":"sbp","type":"ordinal","scale":{"domain":[180,160,140,120],"paddingInner":0,"paddingOuter":0}},
   "text":{"field":"sbp","type":"ordinal"}}},
 {"width":135,"height":654,"data":{"name":"cells"},
  "transform":[{"filter":"datum.sex === 'Žene' && datum.smoker === 'Nepušači'"}],
  "encoding":{
   "x":{"field":"chol","type":"ordinal","scale":{"domain":[4,5,6,7,8],"paddingInner":0,"paddingOuter":0},"axis":null},
   "y":{"field":"age","type":"ordinal","scale":{"domain":[65,60,55,50,40],"paddingInner":0.1734,"paddingOuter":0},"axis":null},
   "yOffset":{"field":"sbp","type":"ordinal","scale":{"domain":[180,160,140,120],"paddingInner":0,"paddingOuter":0}}},
  "layer":[
   {"mark":{"type":"rect","strokeWidth":0.8,"clip":true},"encoding":{
     "color":{"field":"risk","type":"quantitative","scale":{"type":"threshold","domain":[1,2,3,5,10,15],"range":["#00a551","#6abd45","#fff200","#f7941d","#ed1c24","#c5202e","#a01e24"]},"legend":null},
     "stroke":{"field":"risk","type":"quantitative","scale":{"type":"threshold","domain":[1,2,3,5,10,15],"range":["#00a551","#6abd45","#fff200","#f7941d","#ed1c24","#c5202e","#a01e24"]},"legend":null}}},
   {"mark":{"type":"text","fontSize":16},"encoding":{
     "text":{"field":"risk","type":"quantitative"},
     "color":{"condition":{"test":"datum.risk < 1 || datum.risk >= 10","value":"#ffffff"},"value":"#231f20"}}}]},
 {"width":23,"height":654,"data":{"values":[]},"mark":"rect","encoding":{}},
 {"width":135,"height":654,"data":{"name":"cells"},
  "transform":[{"filter":"datum.sex === 'Žene' && datum.smoker === 'Pušači'"}],
  "encoding":{
   "x":{"field":"chol","type":"ordinal","scale":{"domain":[4,5,6,7,8],"paddingInner":0,"paddingOuter":0},"axis":null},
   "y":{"field":"age","type":"ordinal","scale":{"domain":[65,60,55,50,40],"paddingInner":0.1734,"paddingOuter":0},"axis":null},
   "yOffset":{"field":"sbp","type":"ordinal","scale":{"domain":[180,160,140,120],"paddingInner":0,"paddingOuter":0}}},
  "layer":[
   {"mark":{"type":"rect","strokeWidth":0.8,"clip":true},"encoding":{
     "color":{"field":"risk","type":"quantitative","scale":{"type":"threshold","domain":[1,2,3,5,10,15],"range":["#00a551","#6abd45","#fff200","#f7941d","#ed1c24","#c5202e","#a01e24"]},"legend":null},
     "stroke":{"field":"risk","type":"quantitative","scale":{"type":"threshold","domain":[1,2,3,5,10,15],"range":["#00a551","#6abd45","#fff200","#f7941d","#ed1c24","#c5202e","#a01e24"]},"legend":null}}},
   {"mark":{"type":"text","fontSize":16},"encoding":{
     "text":{"field":"risk","type":"quantitative"},
     "color":{"condition":{"test":"datum.risk < 1 || datum.risk >= 10","value":"#ffffff"},"value":"#231f20"}}}]},
 {"width":68,"height":654,"data":{"name":"cells"},
  "transform":[{"filter":"datum.sex === 'Žene' && datum.smoker === 'Nepušači' && datum.chol === 4 && datum.sbp === 140"}],
  "mark":{"type":"text","fontSize":20,"fontWeight":"bold","color":"#d42a30"},
  "encoding":{
   "y":{"field":"age","type":"ordinal","scale":{"domain":[65,60,55,50,40],"paddingInner":0.1734,"paddingOuter":0},"axis":null},
   "yOffset":{"field":"sbp","type":"ordinal","scale":{"domain":[180,160,140,120],"paddingInner":0,"paddingOuter":0}},
   "text":{"field":"age","type":"ordinal"}}},
 {"width":135,"height":654,"data":{"name":"cells"},
  "transform":[{"filter":"datum.sex === 'Muškarci' && datum.smoker === 'Nepušači'"}],
  "encoding":{
   "x":{"field":"chol","type":"ordinal","scale":{"domain":[4,5,6,7,8],"paddingInner":0,"paddingOuter":0},"axis":null},
   "y":{"field":"age","type":"ordinal","scale":{"domain":[65,60,55,50,40],"paddingInner":0.1734,"paddingOuter":0},"axis":null},
   "yOffset":{"field":"sbp","type":"ordinal","scale":{"domain":[180,160,140,120],"paddingInner":0,"paddingOuter":0}}},
  "layer":[
   {"mark":{"type":"rect","strokeWidth":0.8,"clip":true},"encoding":{
     "color":{"field":"risk","type":"quantitative","scale":{"type":"threshold","domain":[1,2,3,5,10,15],"range":["#00a551","#6abd45","#fff200","#f7941d","#ed1c24","#c5202e","#a01e24"]},"legend":null},
     "stroke":{"field":"risk","type":"quantitative","scale":{"type":"threshold","domain":[1,2,3,5,10,15],"range":["#00a551","#6abd45","#fff200","#f7941d","#ed1c24","#c5202e","#a01e24"]},"legend":null}}},
   {"mark":{"type":"text","fontSize":16},"encoding":{
     "text":{"field":"risk","type":"quantitative"},
     "color":{"condition":{"test":"datum.risk < 1 || datum.risk >= 10","value":"#ffffff"},"value":"#231f20"}}}]},
 {"width":23,"height":654,"data":{"values":[]},"mark":"rect","encoding":{}},
 {"width":135,"height":654,"data":{"name":"cells"},
  "transform":[{"filter":"datum.sex === 'Muškarci' && datum.smoker === 'Pušači'"}],
  "encoding":{
   "x":{"field":"chol","type":"ordinal","scale":{"domain":[4,5,6,7,8],"paddingInner":0,"paddingOuter":0},"axis":null},
   "y":{"field":"age","type":"ordinal","scale":{"domain":[65,60,55,50,40],"paddingInner":0.1734,"paddingOuter":0},"axis":null},
   "yOffset":{"field":"sbp","type":"ordinal","scale":{"domain":[180,160,140,120],"paddingInner":0,"paddingOuter":0}}},
  "layer":[
   {"mark":{"type":"rect","strokeWidth":0.8,"clip":true},"encoding":{
     "color":{"field":"risk","type":"quantitative","scale":{"type":"threshold","domain":[1,2,3,5,10,15],"range":["#00a551","#6abd45","#fff200","#f7941d","#ed1c24","#c5202e","#a01e24"]},"legend":null},
     "stroke":{"field":"risk","type":"quantitative","scale":{"type":"threshold","domain":[1,2,3,5,10,15],"range":["#00a551","#6abd45","#fff200","#f7941d","#ed1c24","#c5202e","#a01e24"]},"legend":null}}},
   {"mark":{"type":"text","fontSize":16},"encoding":{
     "text":{"field":"risk","type":"quantitative"},
     "color":{"condition":{"test":"datum.risk < 1 || datum.risk >= 10","value":"#ffffff"},"value":"#231f20"}}}]}
],"spacing":0,"resolve":{"scale":{"color":"independent","stroke":"independent"}}},
{"hconcat":[
 {"width":166,"height":28,"data":{"values":[]},"mark":"rect","encoding":{}},
 {"width":135,"height":28,"data":{"name":"cells"},"transform":[{"filter":"datum.sex === 'Žene' && datum.smoker === 'Nepušači' && datum.age === 65 && datum.sbp === 180"}],
  "mark":{"type":"text","fontSize":17,"fontWeight":"bold"},
  "encoding":{"x":{"field":"chol","type":"ordinal","scale":{"type":"band","domain":[4,5,6,7,8],"paddingInner":0,"paddingOuter":0},"axis":null},"text":{"field":"chol","type":"ordinal"}}},
 {"width":23,"height":28,"data":{"values":[]},"mark":"rect","encoding":{}},
 {"width":135,"height":28,"data":{"name":"cells"},"transform":[{"filter":"datum.sex === 'Žene' && datum.smoker === 'Pušači' && datum.age === 65 && datum.sbp === 180"}],
  "mark":{"type":"text","fontSize":17,"fontWeight":"bold"},
  "encoding":{"x":{"field":"chol","type":"ordinal","scale":{"type":"band","domain":[4,5,6,7,8],"paddingInner":0,"paddingOuter":0},"axis":null},"text":{"field":"chol","type":"ordinal"}}},
 {"width":68,"height":28,"data":{"values":[]},"mark":"rect","encoding":{}},
 {"width":135,"height":28,"data":{"name":"cells"},"transform":[{"filter":"datum.sex === 'Muškarci' && datum.smoker === 'Nepušači' && datum.age === 65 && datum.sbp === 180"}],
  "mark":{"type":"text","fontSize":17,"fontWeight":"bold"},
  "encoding":{"x":{"field":"chol","type":"ordinal","scale":{"type":"band","domain":[4,5,6,7,8],"paddingInner":0,"paddingOuter":0},"axis":null},"text":{"field":"chol","type":"ordinal"}}},
 {"width":23,"height":28,"data":{"values":[]},"mark":"rect","encoding":{}},
 {"width":135,"height":28,"data":{"name":"cells"},"transform":[{"filter":"datum.sex === 'Muškarci' && datum.smoker === 'Pušači' && datum.age === 65 && datum.sbp === 180"}],
  "mark":{"type":"text","fontSize":17,"fontWeight":"bold"},
  "encoding":{"x":{"field":"chol","type":"ordinal","scale":{"type":"band","domain":[4,5,6,7,8],"paddingInner":0,"paddingOuter":0},"axis":null},"text":{"field":"chol","type":"ordinal"}}}
],"spacing":0},
{"width":960,"height":12,"data":{"values":[]},"mark":"rect","encoding":{}},
{"hconcat":[
 {"width":371,"height":33,"data":{"values":[]},"mark":"rect","encoding":{}},
 {"width":245,"height":33,"data":{"values":[{"label":"Ukupni kolesterol (mmol/L)"}]},"layer":[
  {"mark":{"type":"rect","fill":"#fdf6d1","stroke":"#d9262e","strokeWidth":4,"clip":true},"encoding":{}},
  {"mark":{"type":"text","fontSize":16.5,"fontWeight":"bold"},"encoding":{"text":{"field":"label","type":"nominal"}}}]}
],"spacing":0},
{"width":960,"height":31,"data":{"values":[]},"mark":"rect","encoding":{}},
{"hconcat":[
 {"width":330,"height":127,"data":{"values":[]},"mark":"rect","encoding":{}},
 {"width":151,"height":127,"data":{"values":[{"cat":"< 1 %"},{"cat":"1 %"},{"cat":"2 %"},{"cat":"3 % – 4 %"}]},
  "layer":[
   {"mark":{"type":"rect","fill":"#f2e0cc","stroke":"#ffffff","strokeWidth":2,"clip":true},"encoding":{"y":{"field":"cat","type":"nominal","sort":null,"scale":{"paddingInner":0,"paddingOuter":0},"axis":null}}},
   {"mark":{"type":"rect","clip":true},"encoding":{
     "y":{"field":"cat","type":"nominal","sort":null,"scale":{"paddingInner":0,"paddingOuter":0},"axis":null},
     "x":{"datum":"swatch","type":"nominal","scale":{"type":"band","domain":["swatch"],"paddingInner":0.584,"paddingOuter":1,"align":0},"axis":null},
     "color":{"field":"cat","type":"nominal","scale":{"domain":["< 1 %","1 %","2 %","3 % – 4 %"],"range":["#00a551","#6abd45","#fff200","#f7941d"]},"legend":null}}},
   {"mark":{"type":"text","fontSize":15},"encoding":{
     "y":{"field":"cat","type":"nominal","sort":null,"scale":{"type":"band","paddingInner":0,"paddingOuter":0},"axis":null},
     "x":{"datum":"label","type":"nominal","scale":{"type":"band","domain":["label"],"paddingInner":0,"paddingOuter":0.104,"align":1},"axis":null},
     "text":{"field":"cat","type":"nominal"}}},
   {"data":{"values":[{}]},"mark":{"type":"rect","filled":false,"stroke":"#d42a30","strokeWidth":5,"clip":true},"encoding":{}}
  ],
  "resolve":{"scale":{"x":"independent"}}},
 {"width":24,"height":127,"data":{"values":[]},"mark":"rect","encoding":{}},
 {"width":152,"height":96,"data":{"values":[{"cat":"5 % – 9 %"},{"cat":"10 % – 14 %"},{"cat":"15 % i više"}]},
  "layer":[
   {"mark":{"type":"rect","fill":"#f2e0cc","stroke":"#ffffff","strokeWidth":2,"clip":true},"encoding":{"y":{"field":"cat","type":"nominal","sort":null,"scale":{"paddingInner":0,"paddingOuter":0},"axis":null}}},
   {"mark":{"type":"rect","clip":true},"encoding":{
     "y":{"field":"cat","type":"nominal","sort":null,"scale":{"paddingInner":0,"paddingOuter":0},"axis":null},
     "x":{"datum":"swatch","type":"nominal","scale":{"type":"band","domain":["swatch"],"paddingInner":0.584,"paddingOuter":1,"align":0},"axis":null},
     "color":{"field":"cat","type":"nominal","scale":{"domain":["5 % – 9 %","10 % – 14 %","15 % i više"],"range":["#ed1c24","#c5202e","#a01e24"]},"legend":null}}},
   {"mark":{"type":"text","fontSize":15},"encoding":{
     "y":{"field":"cat","type":"nominal","sort":null,"scale":{"type":"band","paddingInner":0,"paddingOuter":0},"axis":null},
     "x":{"datum":"label","type":"nominal","scale":{"type":"band","domain":["label"],"paddingInner":0,"paddingOuter":0.104,"align":1},"axis":null},
     "text":{"field":"cat","type":"nominal"}}},
   {"data":{"values":[{}]},"mark":{"type":"rect","filled":false,"stroke":"#d42a30","strokeWidth":5,"clip":true},"encoding":{}}
  ],
  "resolve":{"scale":{"x":"independent"}}}
],"spacing":0,"resolve":{"scale":{"color":"independent"}}},
{"width":960,"height":25,"data":{"values":[]},"mark":"rect","encoding":{}},
{"hconcat":[
 {"width":78,"height":92,"data":{"values":[]},"mark":"rect","encoding":{}},
 {"width":2,"height":92,"data":{"values":[
   {"line":1,"text":"Reiner Ž, Catapano AL, De Backer G, Graham I, Taskinen MR, Wiklund O, Agewall S, Alegria E, Chapman MJ, Dur-"},
   {"line":2,"text":"rington P, Erdine S, Halcox J, Hobbs R, Kjekshus J, Filardi PP, Riccardi G, Storey RF, Wood D; ESC/EAS Guidelines for"},
   {"line":3,"text":"the management of dyslipidaemias: The Task Force for the management of dyslipidaemias of the European So-"},
   {"line":4,"text":"ciety of Cardiology (ESC) and the European Atherosclerosis Society (EAS). Eur Heart J 2011;32:1769-1818."}]},
  "mark":{"type":"text","align":"left","fontSize":15.7,"color":"#3d3a3a"},
  "encoding":{
   "y":{"field":"line","type":"ordinal","scale":{"type":"point","padding":0.5},"axis":null},
   "text":{"field":"text","type":"nominal"}}}
],"spacing":0},
{"width":960,"height":15,"data":{"values":[]},"mark":"rect","encoding":{}},
{"width":960,"height":15,"data":{"values":[{}]},"mark":{"type":"rect","fill":"#cf2129"},"encoding":{}},
{"hconcat":[
 {"width":870,"height":32,"data":{"values":[{}]},"mark":{"type":"rect","fill":"#ffffff"},"encoding":{}},
 {"width":14,"height":32,"data":{"values":[{"n":"9"}]},"layer":[
  {"mark":{"type":"rect","fill":"#ffffff"},"encoding":{}},
  {"mark":{"type":"text","fontSize":16,"color":"#9a9a9a"},"encoding":{"text":{"field":"n","type":"nominal"}}}]},
 {"width":76,"height":32,"data":{"values":[{}]},"mark":{"type":"rect","fill":"#ffffff"},"encoding":{}}
],"spacing":0}
]
}
